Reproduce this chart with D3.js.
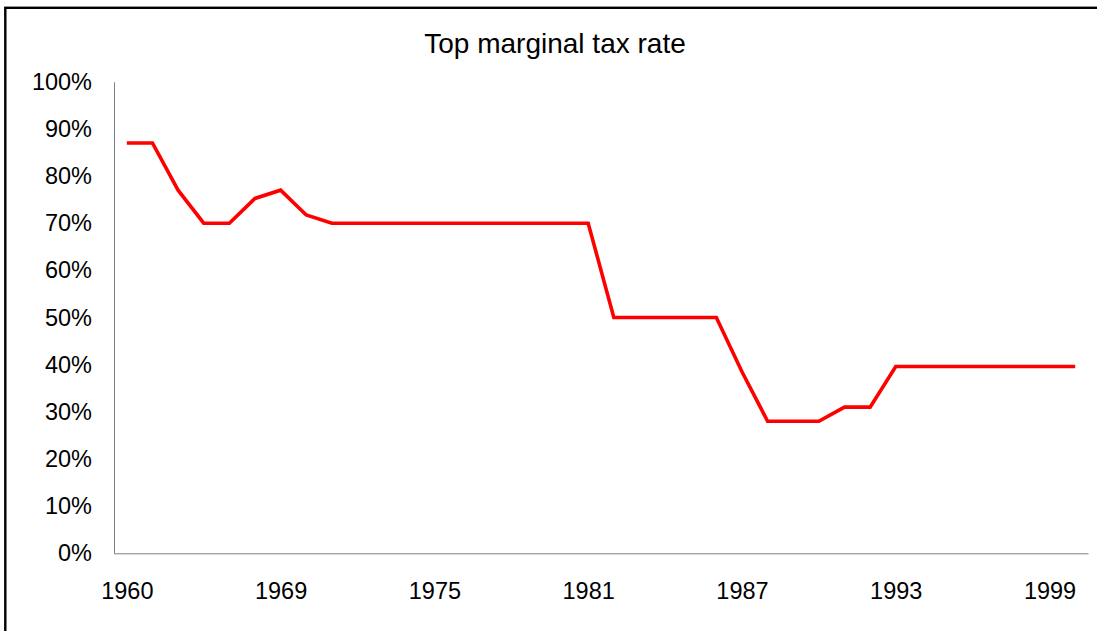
<!DOCTYPE html>
<html>
<head>
<meta charset="utf-8">
<script src="https://cdn.jsdelivr.net/npm/d3@7"></script>
<style>
  body { margin: 0; background: #fff; }
  svg { display: block; font-family: "Liberation Sans", Arial, sans-serif; }
  .title { font-size: 28px; fill: #000; }
  .tick text { font-size: 23.5px; fill: #000; }
</style>
</head>
<body>
<div id="chart"></div>
<script>
const width = 1097;
const height = 631;

const title = "Top marginal tax rate";

// years on the category axis (not evenly spaced in the 1960s)
const years = [1960, 1963, 1964, 1965, 1967, 1968, 1969,
  1970, 1971, 1972, 1973, 1974, 1975, 1976, 1977, 1978, 1979,
  1980, 1981, 1982, 1983, 1984, 1985, 1986, 1987, 1988, 1989,
  1990, 1991, 1992, 1993, 1994, 1995, 1996, 1997, 1998, 1999, 2000];

// top rate, percent
const rates = [87, 87, 77, 70, 70, 75.25, 77,
  71.75, 70, 70, 70, 70, 70, 70, 70, 70, 70,
  70, 70, 50, 50, 50, 50, 50, 38.5, 28, 28,
  28, 31, 31, 39.6, 39.6, 39.6, 39.6, 39.6, 39.6, 39.6, 39.6];

const yTicks = [0, 10, 20, 30, 40, 50, 60, 70, 80, 90, 100];
const xLabelYears = [1960, 1969, 1975, 1981, 1987, 1993, 1999];

const margin = { top: 82, right: 9, bottom: 78, left: 114 };

const svg = d3.select("#chart").append("svg")
  .attr("width", width)
  .attr("height", height);

svg.append("rect")
  .attr("width", width)
  .attr("height", height)
  .attr("fill", "#fff");

// outer frame, cut off on the right and bottom
svg.append("rect")
  .attr("x", 5.3)
  .attr("y", 7.8)
  .attr("width", 1200)
  .attr("height", 800)
  .attr("fill", "none")
  .attr("stroke", "#000")
  .attr("stroke-width", 2.4);

svg.append("text")
  .attr("class", "title")
  .attr("x", 555)
  .attr("y", 53)
  .attr("text-anchor", "middle")
  .text(title);

const x = d3.scalePoint()
  .domain(years)
  .range([margin.left, width - margin.right])
  .padding(0.5);

const y = d3.scaleLinear()
  .domain([0, 100])
  .range([height - margin.bottom + 0.3, margin.top - 0.3]);

const yAxis = d3.axisLeft(y)
  .tickValues(yTicks)
  .tickSize(0)
  .tickPadding(22)
  .tickFormat(d => d + "%");

const xAxis = d3.axisBottom(x)
  .tickValues(xLabelYears)
  .tickSize(0)
  .tickPadding(29);

const gy = svg.append("g")
  .attr("transform", `translate(${margin.left},0)`)
  .call(yAxis);

const gx = svg.append("g")
  .attr("transform", `translate(0,${y(0)})`)
  .call(xAxis);

[gx, gy].forEach(g => {
  g.select(".domain").attr("stroke", "#808080").attr("stroke-width", 1);
  g.selectAll(".tick text").attr("font-family", null).attr("font-size", null);
});
gx.attr("font-size", null).attr("font-family", null);
gy.attr("font-size", null).attr("font-family", null);

const line = d3.line()
  .x((d, i) => x(years[i]))
  .y(d => y(d));

svg.append("path")
  .datum(rates)
  .attr("fill", "none")
  .attr("stroke", "#ff0000")
  .attr("stroke-width", 3.6)
  .attr("stroke-linejoin", "miter")
  .attr("d", line);
</script>
</body>
</html>
